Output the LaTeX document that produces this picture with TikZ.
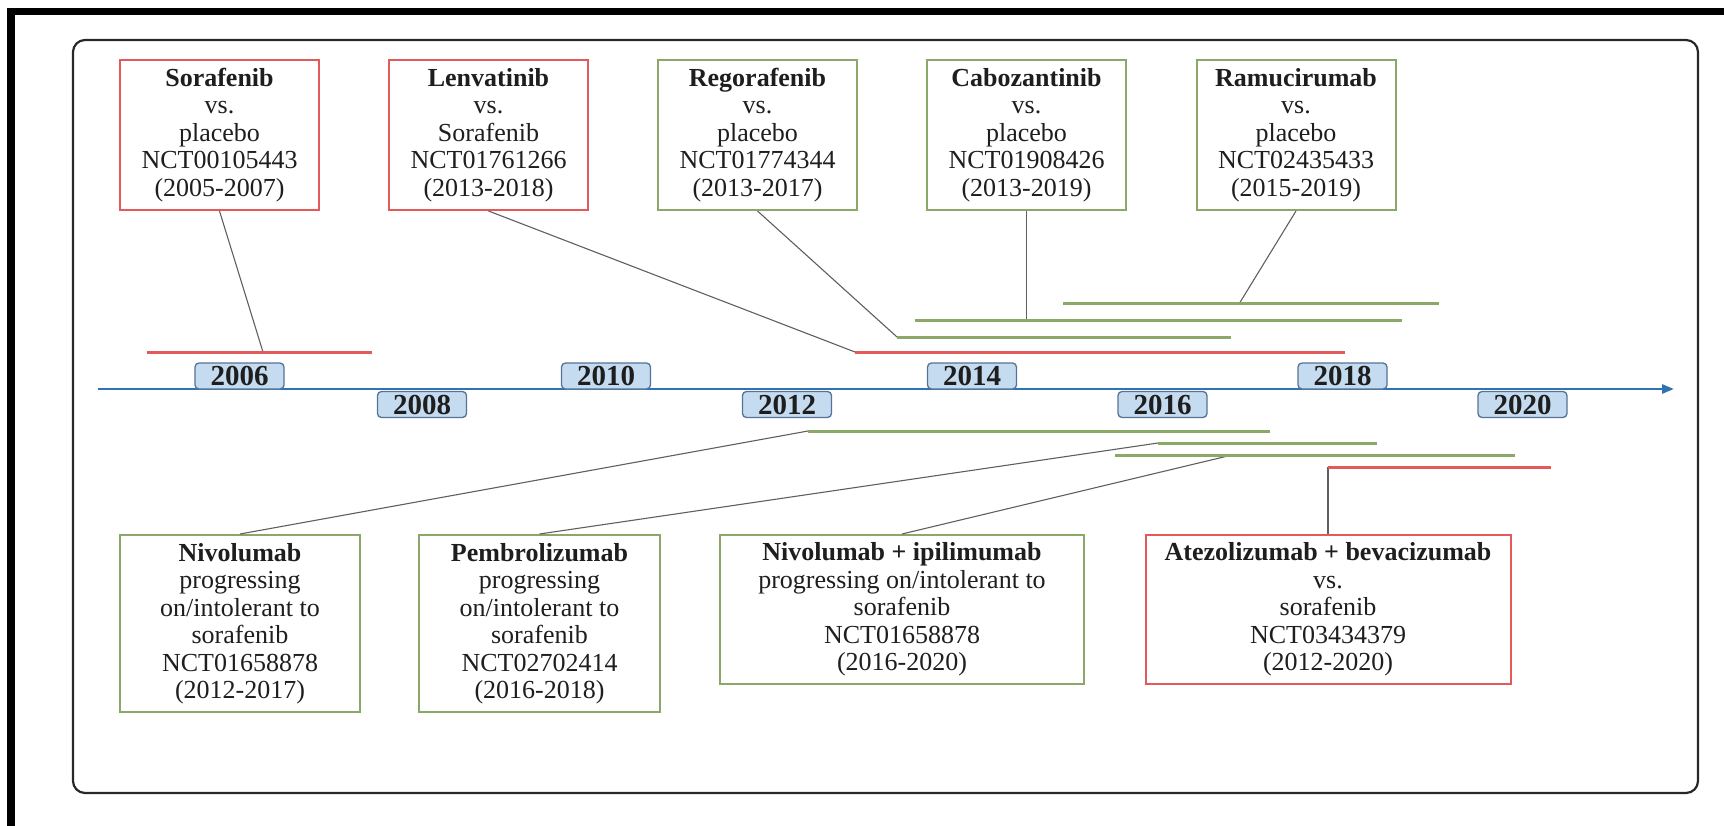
\documentclass[tikz,border=0pt]{standalone}
\usepackage{fontspec}
\setmainfont{Liberation Serif}
\usetikzlibrary{arrows.meta}
\definecolor{tlred}{RGB}{226,90,90}
\definecolor{tlgreen}{RGB}{140,168,105}
\definecolor{axisblue}{RGB}{46,116,181}
\definecolor{yearfill}{RGB}{197,219,239}
\definecolor{yearedge}{RGB}{85,115,150}
\definecolor{conngray}{RGB}{95,95,95}
\definecolor{framegray}{RGB}{40,40,40}
\definecolor{txt}{RGB}{30,30,30}
\tikzset{
  trialbox/.style={line width=2pt, fill=white, inner sep=0pt, align=center,
    text=txt, font=\fontsize{26}{27.5}\selectfont},
  redbox/.style={trialbox, draw=tlred},
  greenbox/.style={trialbox, draw=tlgreen},
  topbox/.style={minimum width=199pt, minimum height=150pt},
  yearbox/.style={draw=yearedge, fill=yearfill, rounded corners=4pt, line width=1.3pt,
    minimum width=89pt, minimum height=26pt, inner sep=0pt, text=txt,
    font=\fontsize{29}{29}\selectfont\bfseries},
  redspan/.style={draw=tlred, line width=3pt},
  greenspan/.style={draw=tlgreen, line width=3pt},
  conn/.style={draw=conngray, line width=1.1pt},
  axisline/.style={draw=axisblue, line width=2.6pt, -{Triangle[length=12pt,width=9pt]}},
  framebox/.style={draw=framegray, line width=2.2pt, rounded corners=12pt}
}
\begin{document}
\begin{tikzpicture}[x=1pt,y=-1pt]
\useasboundingbox (0,0) rectangle (1724,826);
% outer black bands
\fill[black] (7,8) rectangle (15,826);
\fill[black] (7,8) rectangle (1724,15);
% rounded frame
\draw[framebox] (73,40) rectangle (1698,793);

% axis
\coordinate (axstart) at (98,389);
\coordinate (axend) at (1674,389);
\draw[axisline] (axstart) -- (axend);

% year boxes
\node[yearbox] (y2006) at (239.5,376) {2006};
\node[yearbox] (y2010) at (606,376) {2010};
\node[yearbox] (y2014) at (972,376) {2014};
\node[yearbox] (y2018) at (1342.5,376) {2018};
\node[yearbox] (y2008) at (422,404.5) {2008};
\node[yearbox] (y2012) at (787,404.5) {2012};
\node[yearbox] (y2016) at (1162.5,404.5) {2016};
\node[yearbox] (y2020) at (1522.5,404.5) {2020};

% top trial boxes
\node[redbox, topbox] (sor) at (219.5,135) {\textbf{Sorafenib}\\vs.\\placebo\\NCT00105443\\(2005-2007)};
\node[redbox, topbox] (len) at (488.5,135) {\textbf{Lenvatinib}\\vs.\\Sorafenib\\NCT01761266\\(2013-2018)};
\node[greenbox, topbox] (reg) at (757.5,135) {\textbf{Regorafenib}\\vs.\\placebo\\NCT01774344\\(2013-2017)};
\node[greenbox, topbox] (cab) at (1026.5,135) {\textbf{Cabozantinib}\\vs.\\placebo\\NCT01908426\\(2013-2019)};
\node[greenbox, topbox] (ram) at (1296,135) {\textbf{Ramucirumab}\\vs.\\placebo\\NCT02435433\\(2015-2019)};

% bottom trial boxes
\node[greenbox, minimum width=240pt, minimum height=177pt] (niv) at (240,623.5) {\textbf{Nivolumab}\\progressing\\on/intolerant to\\sorafenib\\NCT01658878\\(2012-2017)};
\node[greenbox, minimum width=241pt, minimum height=177pt] (pem) at (539.5,623.5) {\textbf{Pembrolizumab}\\progressing\\on/intolerant to\\sorafenib\\NCT02702414\\(2016-2018)};
\node[greenbox, minimum width=364pt, minimum height=149pt] (nivipi) at (902,609.5) {\textbf{Nivolumab + ipilimumab}\\progressing on/intolerant to\\sorafenib\\NCT01658878\\(2016-2020)};
\node[redbox, minimum width=365pt, minimum height=149pt] (atezo) at (1328,609.5) {\textbf{Atezolizumab + bevacizumab}\\vs.\\sorafenib\\NCT03434379\\(2012-2020)};

% spans above axis
\coordinate (sorA) at (147,352);  \coordinate (sorB) at (372,352);  \coordinate (sorJ) at (263,352);
\coordinate (lenA) at (855,352);  \coordinate (lenB) at (1345,352);
\coordinate (regA) at (897,337);  \coordinate (regB) at (1231,337);
\coordinate (cabA) at (915,321);  \coordinate (cabB) at (1402,321); \coordinate (cabJ) at (1026.5,321);
\coordinate (ramA) at (1063,304); \coordinate (ramB) at (1439,304); \coordinate (ramJ) at (1239,304);
% spans below axis
\coordinate (nivA) at (808,431);  \coordinate (nivB) at (1270,431);
\coordinate (pemA) at (1158,443); \coordinate (pemB) at (1377,443);
\coordinate (nipA) at (1115,455); \coordinate (nipB) at (1515,455); \coordinate (nipJ) at (1232,455);
\coordinate (atzA) at (1328,467); \coordinate (atzB) at (1551,467);

% connectors
\draw[conn] (sor.south) -- (sorJ);
\draw[conn] (len.south) -- (lenA);
\draw[conn] (reg.south) -- (regA);
\draw[conn] (cab.south) -- (cabJ);
\draw[conn] (ram.south) -- (ramJ);
\draw[conn] (niv.north) -- (nivA);
\draw[conn] (pem.north) -- (pemA);
\draw[conn] (nivipi.north) -- (nipJ);
\draw[conn] (atezo.north) -- (atzA);

\draw[redspan] (sorA) -- (sorB);
\draw[redspan] (lenA) -- (lenB);
\draw[greenspan] (regA) -- (regB);
\draw[greenspan] (cabA) -- (cabB);
\draw[greenspan] (ramA) -- (ramB);
\draw[greenspan] (nivA) -- (nivB);
\draw[greenspan] (pemA) -- (pemB);
\draw[greenspan] (nipA) -- (nipB);
\draw[redspan] (atzA) -- (atzB);
\end{tikzpicture}
\end{document}
